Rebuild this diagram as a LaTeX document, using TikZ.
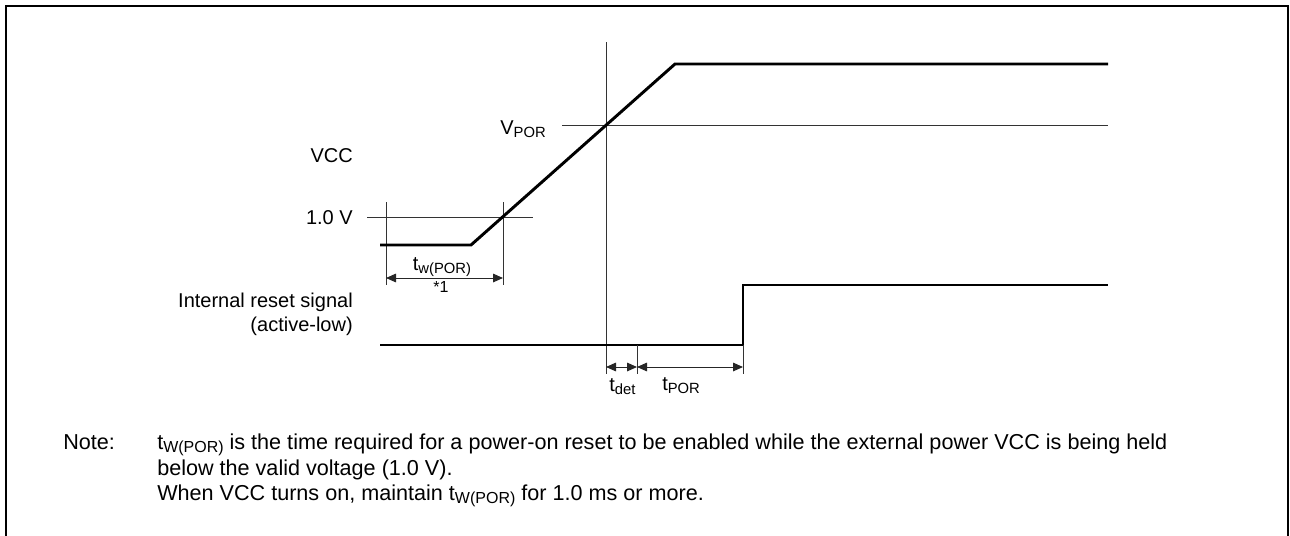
\documentclass[tikz,border=0pt]{standalone}
\usepackage{fontspec}
\setmainfont{Liberation Sans}
\usetikzlibrary{arrows.meta}
\newcommand{\sub}[1]{\raisebox{-0.32ex}{\scalebox{0.74}{#1}}}
\begin{document}
\begin{tikzpicture}[x=0.75pt,y=-0.75pt,
  thin line/.style={line width=0.75pt,black!80},
  sig/.style={line width=2.2pt,line join=miter},
  dim/.style={line width=0.75pt,black!85,{Triangle[length=7.5pt,width=6.5pt]}-{Triangle[length=7.5pt,width=6.5pt]}},
  lbl/.style={font=\fontsize{15}{18}\selectfont,inner sep=0pt},
  notef/.style={font=\fontsize{16.2}{19}\selectfont,inner sep=0pt},
  small/.style={font=\fontsize{12}{14}\selectfont,inner sep=0pt}]
\useasboundingbox (0,0) rectangle (1290,536);
% frame
\draw[line width=2pt] (6,537) -- (6,6) -- (1288,6) -- (1288,537);
% guide lines
\coordinate (vtop) at (606,42);
\coordinate (vbot) at (606,374);
\draw[thin line] (vtop) -- (vbot);
\coordinate (pl) at (562,125); \coordinate (pr) at (1108,125);
\draw[thin line] (pl) -- (pr);
\coordinate (ol) at (367,217); \coordinate (or) at (533,217);
\draw[thin line] (ol) -- (or);
% tw ticks
\coordinate (t1a) at (386,202); \coordinate (t1b) at (386,285);
\coordinate (t2a) at (503,202); \coordinate (t2b) at (503,285);
\draw[thin line] (t1a) -- (t1b);
\draw[thin line] (t2a) -- (t2b);
\coordinate (a1) at (386,278); \coordinate (a2) at (503,278);
\draw[dim] (a1) -- (a2);
% VCC signal
\coordinate (v0) at (380,245); \coordinate (v1) at (471,245);
\coordinate (v2) at (675,64); \coordinate (v3) at (1108,64);
\draw[sig] (v0) -- (v1) -- (v2) -- (v3);
% reset signal
\coordinate (r0) at (380,345); \coordinate (r1) at (743,345);
\coordinate (r2) at (743,285); \coordinate (r3) at (1108,285);
\draw[sig] (r0) -- (r1) -- (r2) -- (r3);
% lower ticks
\coordinate (d1a) at (637,345); \coordinate (d1b) at (637,374);
\coordinate (d2a) at (743,345); \coordinate (d2b) at (743,374);
\draw[thin line] (d1a) -- (d1b);
\draw[thin line] (d2a) -- (d2b);
\coordinate (b0) at (606,367); \coordinate (b1) at (637,367); \coordinate (b2) at (743,367);
\draw[dim] (b0) -- (b1);
\draw[dim] (b1) -- (b2);
% labels
\node[lbl,anchor=base east] (lvpor) at (546,134) {V\sub{POR}};
\node[lbl,anchor=base east] (lvcc) at (353,162) {VCC};
\node[lbl,anchor=base east] (lone) at (353,224) {1.0 V};
\node[lbl,anchor=base] (ltw) at (442,270) {t\sub{w(POR)}};
\node[small,anchor=base] (lst) at (441,292) {*1};
\node[lbl,anchor=base east] (lrst) at (353,307) {Internal reset signal};
\node[lbl,anchor=base east] (lact) at (353,331) {(active-low)};
\node[lbl,anchor=base west] (ldet) at (609,391) {t\sub{det}};
\node[lbl,anchor=base west] (lpor) at (662,390) {t\sub{POR}};
% note
\node[notef,anchor=base west] (note) at (63,449) {Note:};
\node[notef,anchor=base west] (n1) at (157,449) {t\sub{W(POR)} is the time required for a power-on reset to be enabled while the external power VCC is being held};
\node[notef,anchor=base west] (n2) at (157,475) {below the valid voltage (1.0 V).};
\node[notef,anchor=base west] (n3) at (157,500) {When VCC turns on, maintain t\sub{W(POR)} for 1.0 ms or more.};
\end{tikzpicture}
\end{document}
